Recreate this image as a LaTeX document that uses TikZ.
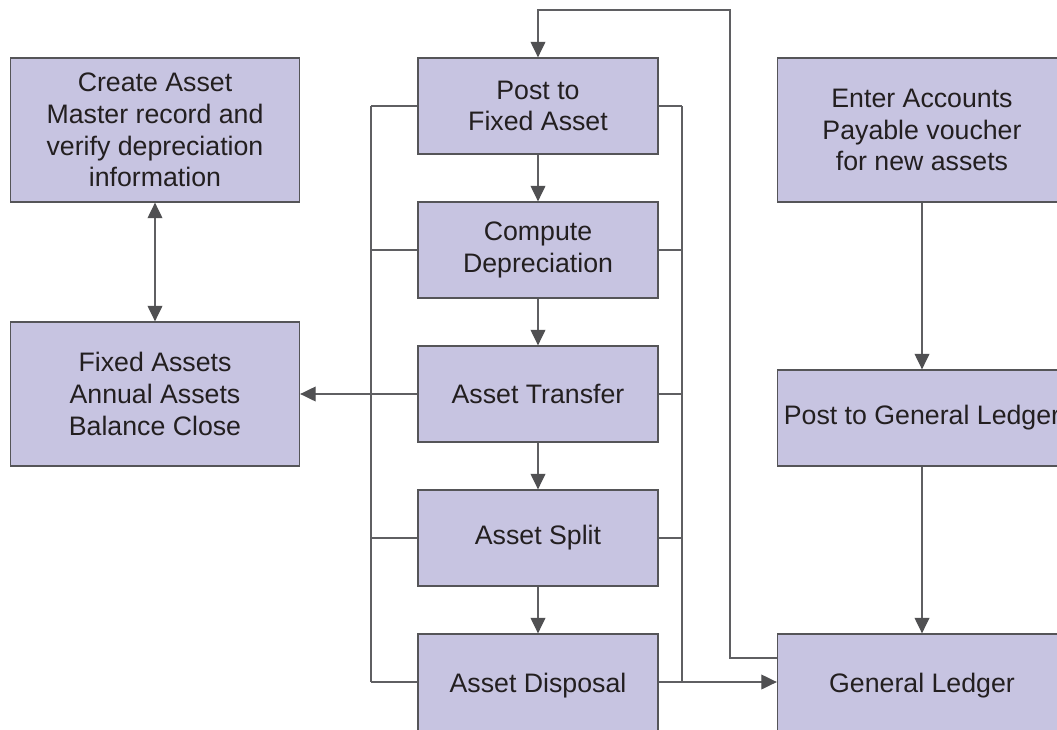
\documentclass[tikz,border=0pt]{standalone}
\usepackage{fontspec}
\setmainfont{Liberation Sans}
\usetikzlibrary{arrows.meta}

\definecolor{fondocaja}{RGB}{199,196,225}
\definecolor{bordecaja}{RGB}{85,85,88}
\definecolor{linea}{RGB}{95,95,98}
\definecolor{punta}{RGB}{80,80,82}
\definecolor{texto}{RGB}{35,31,32}

\tikzset{
	caja/.style={draw=bordecaja, fill=fondocaja, line width=0.9pt, inner sep=0pt,
		align=center, text=texto, font=\fontsize{19}{22.5}\selectfont},
	conector/.style={draw=linea, line width=0.85pt},
	flecha/.style={conector, -{Triangle[length=11pt,width=10.5pt,color=punta]}},
	doble/.style={conector, {Triangle[length=11pt,width=10.5pt,color=punta]}-{Triangle[length=11pt,width=10.5pt,color=punta]}}
}

\begin{document}
\begin{tikzpicture}[x=0.025cm, y=-0.025cm]
\clip (0,0) rectangle (1057,729);

% Columna izquierda
	\node[caja, minimum width=7.225cm, minimum height=3.6cm] (crear) at (155,130)
		{Create Asset\\Master record and\\verify depreciation\\information};
	\node[caja, minimum width=7.225cm, minimum height=3.6cm] (cierre) at (155,394)
		{Fixed Assets\\Annual Assets\\Balance Close};
	\draw[doble] (crear.south) -- (cierre.north);

% Columna central
	\foreach \y/\nombre/\texto in {106/post/{Post to\\Fixed Asset}, 250/compute/{Compute\\Depreciation},
			394/transfer/{Asset Transfer}, 538/split/{Asset Split}}
		\node[caja, minimum width=6cm, minimum height=2.4cm] (\nombre) at (538,\y) {\texto};
	\node[caja, minimum width=6cm, minimum height=2.6cm] (disposal) at (538,686) {Asset Disposal};

	\foreach \a/\b in {post/compute, compute/transfer, transfer/split, split/disposal}
		\draw[flecha] (\a.south) -- (\b.north);

% Columna derecha
	\node[caja, minimum width=7.225cm, minimum height=3.6cm] (voucher) at (922,130)
		{Enter Accounts\\Payable voucher\\for new assets};
	\node[caja, minimum width=7.225cm, minimum height=2.4cm] (postgl) at (922,418)
		{Post to General Ledger};
	\node[caja, minimum width=7.225cm, minimum height=2.6cm] (ledger) at (922,686)
		{General Ledger};
	\draw[flecha] (voucher.south) -- (postgl.north);
	\draw[flecha] (postgl.south) -- (ledger.north);

% Barras de enlace
	\coordinate (busizq) at (371,0);
	\coordinate (busder) at (682,0);
	\coordinate (lazo) at (730,10);
	\coordinate (nivel) at (0,682);
	\coordinate (retorno) at (0,658);

	\foreach \n in {post, compute, transfer, split} {
		\draw[conector] (\n.west) -- (\n.west -| busizq);
		\draw[conector] (\n.east) -- (\n.east -| busder);
	}
	\draw[conector] (disposal.west |- nivel) -- (busizq |- nivel);
	\draw[conector] (disposal.east |- nivel) -- (busder |- nivel);
	\draw[conector] (post.west -| busizq) -- (busizq |- nivel);
	\draw[flecha] (transfer.west -| busizq) -- (cierre.east);
	\draw[flecha] (post.east -| busder) |- (ledger.west |- nivel);
	\draw[flecha] (ledger.west |- retorno) -| (lazo) -| (post.north);
\end{tikzpicture}
\end{document}
